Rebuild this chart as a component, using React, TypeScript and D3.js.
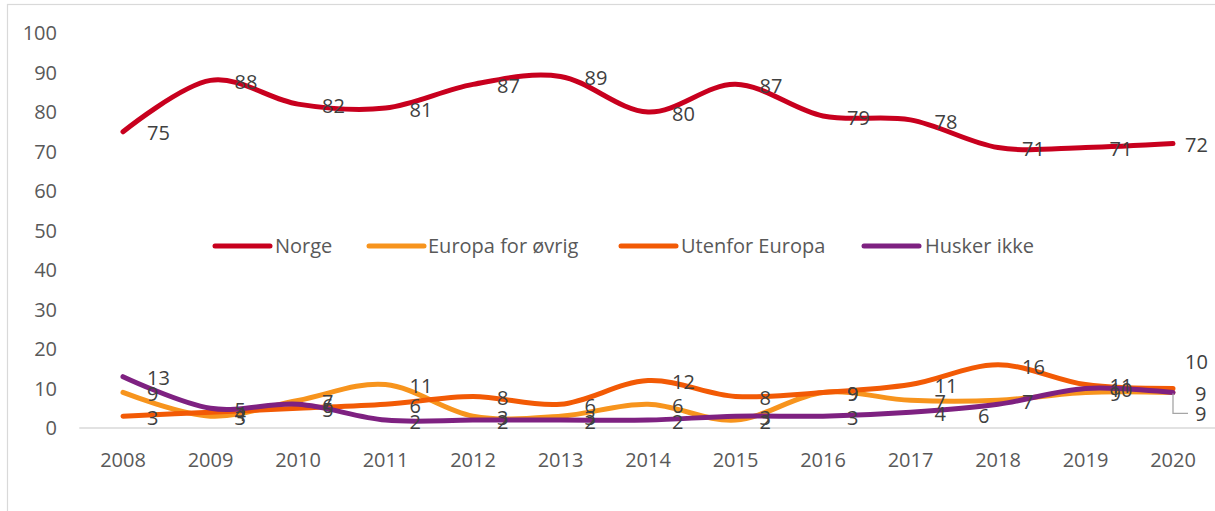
import React from "react";
import * as d3 from "d3";

const years = ["2008","2009","2010","2011","2012","2013","2014","2015","2016","2017","2018","2019","2020"];
const norge = [75, 88, 82, 81, 87, 89, 80, 87, 79, 78, 71, 71, 72];
const europaForOvrig = [9, 3, 7, 11, 3, 3, 6, 2, 9, 7, 7, 9, 9];
const utenforEuropa = [3, 4, 5, 6, 8, 6, 12, 8, 9, 11, 16, 11, 10];
const huskerIkke = [13, 5, 6, 2, 2, 2, 2, 3, 3, 4, 6, 10, 9];
const yTicks = [0, 10, 20, 30, 40, 50, 60, 70, 80, 90, 100];

const seriesNames = ["Norge", "Europa for øvrig", "Utenfor Europa", "Husker ikke"];
const seriesValues = [norge, europaForOvrig, utenforEuropa, huskerIkke];
const seriesColors = ["#C8001E", "#F7941D", "#F25A05", "#7E2181"];

const W = 1215, H = 511;
const FONT = "'Open Sans', sans-serif";

export default function App() {
  const x = d3.scaleBand<string>().domain(years).range([79.25, 1216.75]).paddingInner(0).paddingOuter(0);
  const cx = (y: string) => (x(y) as number) + x.bandwidth() / 2;
  const y = d3.scaleLinear().domain([0, 100]).range([428, 33]);
  const line = d3.line<number>()
    .x((_, i) => cx(years[i]))
    .y((v) => y(v))
    .curve(d3.curveCardinal.tension(0));

  // label placement overrides (series index, year index) -> [dx, dyCenter]
  const override = (s: number, i: number): { dx: number; cy: number } | null => {
    const py = y(seriesValues[s][i]);
    if (s === 0 && i === 12) return { dx: 12, cy: py + 1.5 };
    if (s === 2 && i === 12) return { dx: 12, cy: 362 - 0 };
    if (s === 1 && i === 12) return { dx: 22, cy: py + 1.5 };
    if (s === 3 && i === 12) return { dx: 22, cy: py + 21 };
    if (s === 3 && i === 10) return { dx: -20, cy: py + 11 };
    return null;
  };

  const legendItems = [
    { lx: 215, tx: 275 },
    { lx: 369, tx: 428 },
    { lx: 621, tx: 681 },
    { lx: 864, tx: 925 },
  ];

  const p2020 = cx("2020");
  const h2020 = y(huskerIkke[12]);

  return (
    <svg width={W} height={H} style={{ position: "absolute", left: 0, top: 0, background: "#fff" }} fontFamily={FONT}>
      <rect x={7.5} y={4.5} width={1220} height={520} fill="#fff" stroke="#D9D9D9" strokeWidth={1.2} />
      {/* y axis labels */}
      {yTicks.map((t) => (
        <text key={t} x={57} y={y(t)} dy="0.36em" textAnchor="end" fontSize={20} fill="#595959">{t}</text>
      ))}
      {/* x axis baseline */}
      <line x1={79.25} x2={1216.75} y1={428} y2={428} stroke="#D9D9D9" strokeWidth={1.5} />
      {years.map((yr) => (
        <text key={yr} x={cx(yr)} y={467} textAnchor="middle" fontSize={20} fill="#595959">{yr}</text>
      ))}
      {/* lines */}
      {seriesValues.map((vals, s) => (
        <path key={s} d={line(vals) || ""} fill="none" stroke={seriesColors[s]} strokeWidth={5} strokeLinecap="round" strokeLinejoin="round" />
      ))}
      {/* leader line for Husker ikke 2020 */}
      <polyline points={`${p2020},${h2020 + 1} ${p2020},${h2020 + 21} ${p2020 + 15},${h2020 + 21}`} fill="none" stroke="#A6A6A6" strokeWidth={1.3} />
      {/* data labels */}
      {seriesValues.map((vals, s) =>
        vals.map((v, i) => {
          const px = cx(years[i]);
          const py = y(v);
          const o = override(s, i) || { dx: 24, cy: py + 1.5 };
          return (
            <text key={`${s}-${i}`} x={px + o.dx} y={o.cy} dy="0.36em" fontSize={20} fill="#404040">{v}</text>
          );
        })
      )}
      {/* legend */}
      {seriesNames.map((n, s) => (
        <g key={n}>
          <line x1={legendItems[s].lx} x2={legendItems[s].lx + 55} y1={246} y2={246} stroke={seriesColors[s]} strokeWidth={5} strokeLinecap="round" />
          <text x={legendItems[s].tx} y={246} dy="0.36em" fontSize={20} fill="#595959">{n}</text>
        </g>
      ))}
    </svg>
  );
}
